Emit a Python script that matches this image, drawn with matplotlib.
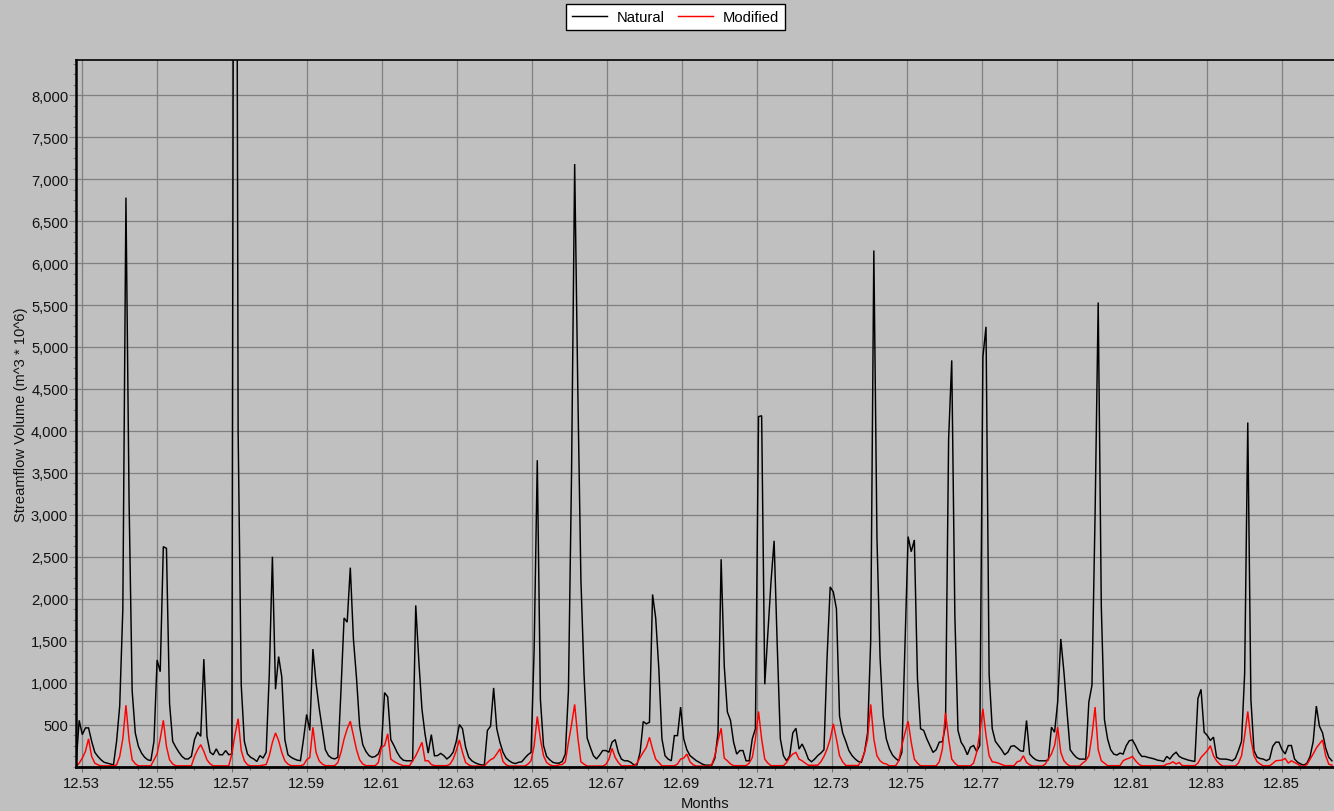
import numpy as np
import matplotlib
matplotlib.use("Agg")
import matplotlib.pyplot as plt
from matplotlib.ticker import FuncFormatter, MultipleLocator, FixedLocator

plt.rcParams['font.family'] = ['Liberation Sans', 'DejaVu Sans']

# ---------------- data ----------------
x_start = 12.5285      # first month position on the "Months" axis
x_step = 0.000831      # one month

natural = [
    30, 550, 380, 460, 460, 300, 170, 120, 80, 50, 40, 30,
    20, 300, 720, 1870, 6780, 3180, 900, 400, 240, 160, 110, 80,
    70, 300, 1270, 1130, 2620, 2600, 750, 300, 230, 170, 120, 90,
    90, 120, 320, 410, 360, 1280, 360, 170, 140, 210, 140, 140,
    190, 140, 150, 20000, 4000, 970, 300, 150, 110, 90, 60, 130,
    100, 170, 1100, 2500, 920, 1310, 1070, 320, 140, 110, 90, 75,
    70, 330, 620, 430, 1400, 1000, 700, 450, 200, 130, 100, 90,
    110, 900, 1770, 1720, 2370, 1520, 1050, 480, 260, 180, 130, 110,
    120, 150, 250, 880, 830, 320, 250, 170, 110, 75, 68, 68,
    68, 1920, 1250, 680, 380, 160, 380, 128, 130, 156, 130, 90,
    120, 170, 300, 500, 450, 230, 110, 68, 45, 30, 20, 15,
    430, 480, 936, 450, 290, 170, 100, 68, 45, 35, 50, 56,
    100, 140, 168, 1400, 3650, 800, 250, 120, 80, 50, 40, 40,
    60, 148, 900, 3500, 7180, 4500, 2230, 1100, 340, 230, 130, 90,
    136, 190, 190, 170, 290, 320, 170, 88, 68, 68, 50, 20,
    20, 170, 536, 508, 528, 2050, 1770, 1170, 330, 128, 88, 68,
    368, 368, 708, 328, 200, 130, 100, 70, 50, 28, 16, 16,
    16, 100, 400, 2470, 1200, 650, 550, 290, 148, 190, 190, 68,
    68, 330, 450, 4170, 4180, 980, 1600, 2200, 2690, 1450, 330, 128,
    68, 128, 400, 456, 208, 268, 188, 88, 56, 88, 130, 160,
    200, 1300, 2140, 2080, 1880, 600, 400, 300, 190, 130, 90, 60,
    50, 170, 400, 1500, 6150, 2730, 1300, 600, 330, 210, 136, 96,
    68, 168, 1450, 2740, 2560, 2700, 1050, 450, 430, 330, 248, 168,
    200, 290, 296, 488, 3900, 4840, 1800, 430, 290, 230, 140, 230,
    250, 180, 250, 4880, 5240, 1100, 450, 300, 250, 200, 140, 170,
    240, 248, 220, 188, 180, 548, 148, 108, 80, 68, 68, 68,
    80, 468, 408, 770, 1520, 1128, 650, 200, 148, 108, 88, 88,
    88, 768, 968, 3000, 5530, 1900, 560, 330, 200, 148, 136, 160,
    148, 248, 308, 316, 248, 168, 120, 120, 108, 100, 90, 76,
    70, 60, 120, 90, 140, 170, 120, 100, 88, 75, 68, 60,
    810, 920, 410, 370, 310, 350, 110, 90, 88, 88, 80, 68,
    96, 190, 300, 1110, 4100, 800, 190, 110, 95, 88, 70, 90,
    240, 290, 290, 200, 150, 250, 250, 90, 50, 30, 16, 40,
    120, 300, 720, 480, 400, 220, 110, 68,
]

modified = [
    0, 40, 100, 180, 330, 120, 40, 20, 8, 8, 8, 8,
    8, 20, 120, 330, 730, 320, 80, 32, 8, 8, 8, 8,
    8, 80, 150, 330, 550, 240, 80, 30, 8, 8, 8, 8,
    8, 8, 120, 200, 260, 180, 80, 32, 8, 8, 8, 8,
    8, 8, 150, 380, 570, 190, 68, 20, 8, 8, 8, 10,
    16, 24, 128, 288, 400, 308, 168, 68, 28, 10, 10, 10,
    10, 20, 80, 108, 468, 168, 68, 30, 10, 10, 10, 10,
    48, 168, 328, 448, 540, 368, 200, 80, 30, 10, 10, 10,
    10, 48, 228, 250, 390, 88, 60, 40, 24, 10, 10, 8,
    68, 128, 208, 288, 68, 68, 24, 10, 10, 10, 10, 10,
    28, 88, 188, 316, 168, 48, 20, 5, 5, 5, 5, 5,
    48, 80, 100, 150, 210, 60, 20, 5, 5, 5, 5, 5,
    5, 28, 68, 248, 596, 328, 128, 48, 20, 8, 8, 20,
    24, 56, 288, 500, 740, 350, 56, 28, 5, 5, 5, 5,
    5, 5, 24, 88, 216, 108, 48, 8, 8, 8, 8, 8,
    40, 108, 170, 228, 348, 208, 88, 48, 8, 8, 8, 8,
    8, 30, 88, 100, 148, 56, 20, 5, 5, 5, 5, 5,
    24, 128, 308, 456, 100, 68, 30, 10, 10, 10, 10, 10,
    40, 108, 328, 656, 328, 88, 40, 10, 10, 10, 10, 10,
    48, 108, 148, 168, 88, 68, 40, 15, 15, 15, 15, 56,
    120, 208, 328, 508, 328, 128, 56, 12, 12, 12, 12, 12,
    68, 168, 328, 740, 328, 128, 68, 40, 30, 8, 8, 8,
    68, 248, 400, 540, 288, 88, 40, 8, 8, 8, 8, 8,
    8, 56, 208, 640, 328, 88, 40, 8, 8, 8, 8, 8,
    40, 168, 400, 688, 368, 128, 56, 50, 40, 24, 10, 10,
    10, 10, 56, 68, 128, 48, 20, 5, 5, 5, 5, 28,
    88, 150, 250, 468, 168, 68, 28, 5, 5, 5, 5, 40,
    68, 128, 368, 708, 200, 68, 40, 10, 10, 10, 10, 10,
    68, 88, 100, 120, 68, 28, 8, 8, 8, 8, 8, 8,
    8, 8, 28, 36, 56, 30, 48, 10, 10, 10, 10, 10,
    40, 108, 148, 188, 248, 128, 68, 28, 5, 5, 5, 5,
    5, 40, 128, 368, 656, 328, 128, 56, 28, 8, 8, 8,
    36, 68, 72, 76, 96, 40, 68, 48, 28, 5, 5, 24,
    88, 150, 220, 270, 316, 128, 28, 16,
]

series_names = ["Natural", "Modified"]
series_colors = ["#000000", "#ff0000"]
x_tick_values = [12.53, 12.55, 12.57, 12.59, 12.61, 12.63, 12.65, 12.67,
                 12.69, 12.71, 12.73, 12.75, 12.77, 12.79, 12.81, 12.83, 12.85]
y_tick_values = [500, 1000, 1500, 2000, 2500, 3000, 3500, 4000,
                 4500, 5000, 5500, 6000, 6500, 7000, 7500, 8000]
x_label = "Months"
y_label = "Streamflow Volume (m^3 * 10^6)"

# ---------------- figure ----------------
W, H = 1334, 812
bg = "#c0c0c0"
fs = 10.6
fig = plt.figure(figsize=(W / 100, H / 100), dpi=100, facecolor=bg)
ax = fig.add_axes([76 / W, 1 - 767.5 / H, (W - 76) / W, (767.5 - 61) / H])
ax.set_facecolor(bg)

n = len(natural)
x = x_start + x_step * np.arange(n)
ax.plot(x, natural, color=series_colors[0], lw=1.05, label=series_names[0],
        solid_joinstyle='miter', zorder=3)
ax.plot(x[:len(modified)], modified, color=series_colors[1], lw=1.05,
        label=series_names[1], solid_joinstyle='miter', zorder=4)

ax.set_xlim(12.52848, 12.86395)
ax.set_ylim(0, 8420)

ax.xaxis.set_major_locator(FixedLocator(x_tick_values))
ax.xaxis.set_minor_locator(MultipleLocator(0.005))
ax.yaxis.set_major_locator(FixedLocator(y_tick_values))
ax.yaxis.set_minor_locator(MultipleLocator(125))
ax.xaxis.set_major_formatter(FuncFormatter(lambda v, p: f"{v:.2f}"))
ax.yaxis.set_major_formatter(FuncFormatter(lambda v, p: f"{int(round(v)):,}"))

ax.grid(True, which='major', color='#808080', lw=0.9, zorder=1)
ax.set_axisbelow(True)

ax.tick_params(axis='y', which='major', length=5, width=0.8, color='#808080',
               pad=0.6, labelsize=fs, labelcolor='#111111')
ax.tick_params(axis='y', which='minor', length=2.3, width=0.8, color='#808080')
ax.tick_params(axis='x', which='major', length=3.8, width=0.8, color='#707070',
               pad=3.0, labelsize=fs, labelcolor='#111111')
ax.tick_params(axis='x', which='minor', length=2.3, width=0.8, color='#707070')

ax.spines['right'].set_visible(False)
ax.spines['left'].set_linewidth(1.8)
ax.spines['bottom'].set_linewidth(2.0)
ax.spines['top'].set_linewidth(1.2)
for s in ['left', 'bottom', 'top']:
    ax.spines[s].set_color('black')
    ax.spines[s].set_zorder(5)

ax.set_xlabel(x_label, fontsize=fs, color='#111111')
ax.xaxis.set_label_coords(0.5, -(797 - 767.5) / (767.5 - 61))
ax.set_ylabel(y_label, fontsize=fs, color='#111111')
ax.yaxis.set_label_coords(-(76 - 28) / (W - 76), 0.5)

leg = fig.legend(loc='upper center', bbox_to_anchor=(675.5 / W, 1 - 4.5 / H),
                 ncol=2, frameon=True, fancybox=False, fontsize=fs,
                 handlelength=2.35, handletextpad=0.65, columnspacing=0.95,
                 borderpad=0.44, borderaxespad=0.0)
leg.get_frame().set_edgecolor('black')
leg.get_frame().set_linewidth(1.0)
leg.get_frame().set_facecolor('white')
leg.get_frame().set_alpha(1.0)

fig.savefig("out.png", dpi=100, facecolor=bg)
